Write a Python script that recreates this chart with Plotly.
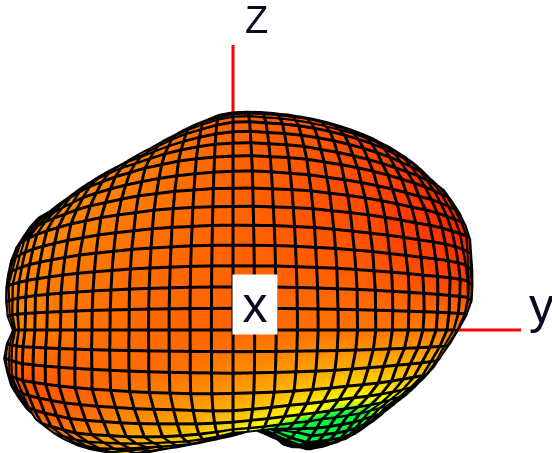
import numpy as np
import plotly.graph_objects as go

# grid angles of the pattern (degrees), left to right and top to bottom
AZ_DEG = list(range(-90, 95, 5))
EL_DEG = list(range(90, -95, -5))

# radius of the lobe at each grid node, one row per elevation
RADIUS = [
    [206,206,205,204,203,202,200,199,198,197,197,198,200,202,205,208,211,215,217,218,219,220,221,223,225,227,229,231,233,235,237,239,240,241,242,243,243],
    [206,206,205,204,203,202,200,199,198,198,198,199,200,203,206,209,212,216,218,219,220,221,222,224,226,228,230,232,234,236,238,240,241,242,243,243,243],
    [206,206,205,204,204,203,201,200,199,199,199,200,202,204,207,211,214,218,220,221,222,223,225,226,228,230,232,234,236,238,239,241,242,243,244,244,244],
    [207,206,206,205,204,204,203,202,202,201,202,203,204,207,210,213,217,220,224,225,226,227,228,230,231,232,234,235,237,239,240,241,242,243,244,245,245],
    [208,208,207,207,206,206,206,205,205,205,206,207,209,212,215,219,223,226,229,230,231,232,233,235,236,237,238,239,241,242,243,244,244,245,245,246,246],
    [210,210,209,209,209,209,209,209,209,209,210,212,214,217,220,224,228,232,235,236,236,237,238,239,240,241,243,244,245,246,247,247,246,246,246,247,247],
    [212,212,211,211,211,211,212,212,213,213,214,216,218,222,226,230,233,237,240,241,241,242,243,244,245,246,247,248,249,249,250,250,249,248,248,248,248],
    [215,214,214,214,215,216,217,218,219,220,222,224,225,228,231,234,237,240,242,243,243,244,245,246,247,248,249,250,251,251,252,252,251,251,250,250,250],
    [218,218,218,218,219,220,221,223,225,227,229,231,232,234,237,239,241,243,244,245,245,246,247,247,248,249,250,251,252,253,254,254,254,254,254,253,252],
    [224,223,222,221,223,224,226,229,231,234,235,237,238,240,241,243,244,245,246,247,247,248,249,249,250,251,252,253,254,255,256,256,256,256,255,254,253],
    [227,226,226,225,227,229,231,233,235,238,239,240,241,242,243,244,245,246,247,248,248,248,249,249,250,251,252,253,254,255,257,257,257,257,256,255,253],
    [229,229,229,230,232,235,237,239,240,242,243,243,244,245,245,246,246,247,247,248,248,249,250,250,251,252,253,254,255,257,258,258,258,258,257,255,252],
    [231,232,233,235,237,240,242,243,244,245,245,246,246,246,247,247,247,247,247,248,248,249,250,250,251,252,253,254,255,257,258,258,258,258,256,254,251],
    [232,232,233,235,237,240,242,243,244,245,245,246,246,246,247,247,247,248,248,248,249,249,250,250,250,251,252,253,254,256,257,257,256,254,252,250,249],
    [231,232,233,235,237,240,242,243,244,245,246,246,246,247,247,247,248,248,248,248,249,249,249,250,250,251,251,252,253,255,256,256,255,250,248,247,246],
    [229,231,233,236,238,240,242,243,244,245,246,246,246,247,247,247,248,248,248,248,249,249,249,250,250,250,251,252,252,254,255,255,254,248,246,244,243],
    [228,229,231,233,236,239,241,243,244,245,245,246,246,247,247,247,248,248,248,248,249,249,249,249,250,250,250,251,251,252,252,252,252,245,243,241,239],
    [224,226,229,231,235,238,240,242,243,244,245,246,246,246,247,247,248,248,248,248,249,249,249,249,249,249,249,249,250,250,250,249,247,240,237,234,231],
    [218,220,223,226,231,236,240,242,243,244,245,246,246,246,247,247,247,248,248,249,249,249,249,249,249,249,248,248,248,248,247,243,238,230,228,225,222],
    [226,227,229,231,235,239,243,244,245,246,246,247,247,247,247,247,247,248,249,248,248,247,247,247,246,245,244,243,242,241,239,233,228,222,220,217,215],
    [230,231,232,233,237,241,245,246,247,248,248,248,248,248,248,248,248,248,249,247,246,245,244,243,240,238,236,234,233,232,230,226,221,215,212,210,208],
    [229,230,232,235,239,243,247,248,249,250,250,250,249,249,249,248,248,247,245,243,242,240,237,235,232,231,230,228,226,224,222,217,212,207,205,204,202],
    [228,229,230,231,235,239,243,244,245,246,245,244,242,241,239,237,237,237,236,232,228,224,222,220,218,217,217,216,215,213,211,207,203,199,198,197,196],
    [224,225,225,226,231,236,240,241,241,242,240,237,235,232,229,226,224,221,218,214,211,208,206,205,204,204,204,204,203,201,200,197,194,191,191,190,190],
    [220,221,221,222,227,232,236,237,237,238,235,231,228,224,220,215,210,204,198,196,194,192,191,191,190,191,191,192,191,191,190,188,186,184,184,184,184],
    [215,215,216,216,220,223,226,226,226,225,220,216,211,206,201,197,191,185,178,177,175,174,177,180,183,184,185,186,185,185,184,182,181,179,179,178,178],
    [211,211,211,211,213,215,216,215,214,212,207,201,194,189,184,179,172,166,160,158,156,155,160,166,176,178,180,181,180,179,178,176,175,174,174,173,173],
    [206,206,206,206,206,206,206,204,201,199,191,184,176,171,165,160,155,151,147,144,140,137,148,160,170,172,174,176,175,173,172,171,170,170,170,170,170],
    [200,200,199,199,198,197,196,193,190,187,180,172,165,160,154,149,144,140,136,134,131,129,139,150,160,162,165,169,168,168,168,168,167,167,167,167,167],
    [195,194,193,192,190,188,186,182,179,175,168,160,153,147,142,138,134,131,128,125,123,121,129,139,150,153,156,160,161,162,163,163,164,164,164,164,164],
    [189,188,186,185,183,181,178,173,167,162,155,148,141,136,132,128,125,123,121,119,116,114,122,131,141,145,150,154,156,158,159,160,160,161,161,162,162],
    [184,183,182,181,178,175,172,166,160,155,148,142,136,132,128,124,121,118,116,114,112,110,117,124,131,137,144,150,152,154,156,157,158,159,159,160,160],
    [180,179,177,176,172,168,165,159,153,147,141,135,130,126,123,119,116,114,112,110,108,107,112,116,121,130,138,146,148,150,152,154,155,157,157,158,158],
    [176,175,174,172,168,163,159,153,146,140,135,130,125,121,118,114,112,110,109,107,105,104,106,108,111,122,132,142,144,147,149,151,153,155,155,156,157],
    [174,173,172,170,165,160,155,149,142,137,132,127,123,119,115,112,110,108,106,104,103,102,103,105,108,117,128,138,142,145,148,150,152,153,154,155,156],
    [173,172,171,168,164,159,154,147,141,136,130,125,122,118,114,111,108,106,104,103,102,101,101,103,106,116,127,136,141,144,147,149,151,152,153,154,155],
    [172,171,171,166,163,158,153,146,140,135,129,125,121,118,113,110,106,104,103,102,101,101,100,101,112,125,131,135,141,144,147,149,150,152,153,154,155],
]

# colour level at each grid node: 0 red, 66 yellow, 80 and up green
LEVEL = [
    [40,40,40,40,40,40,40,39,38,37,37,36,35,34,32,31,30,28,27,26,26,25,25,24,24,23,22,20,19,18,16,15,14,13,12,11,10],
    [40,40,40,40,40,40,40,39,38,37,36,36,35,34,32,31,30,28,27,26,26,25,25,24,24,23,21,20,19,18,16,15,14,13,12,11,10],
    [40,40,40,40,40,40,39,38,38,37,36,35,35,34,32,31,29,28,27,26,25,25,24,24,23,22,21,20,19,17,16,15,14,13,11,10,9],
    [40,40,40,40,39,39,39,38,37,36,36,35,35,33,32,30,29,27,26,26,25,24,24,23,23,22,21,19,18,17,15,14,13,12,11,10,9],
    [40,40,40,39,39,39,39,38,37,36,35,35,34,33,31,30,29,27,26,25,25,24,24,23,23,21,20,19,18,16,15,14,13,12,10,9,8],
    [40,40,39,39,39,38,38,37,37,36,35,35,34,33,31,30,28,27,26,25,25,24,23,23,22,21,20,18,17,16,14,13,12,11,10,9,8],
    [40,40,39,39,39,38,38,37,36,36,35,34,34,33,31,30,28,27,26,25,24,24,23,22,22,21,19,18,17,15,14,13,12,11,10,9,8],
    [40,39,39,39,38,38,38,37,36,36,35,34,34,32,31,30,28,27,26,25,24,23,23,22,22,20,19,18,16,15,14,13,12,11,10,8,8],
    [39,39,39,38,38,38,37,37,36,35,35,34,33,32,31,29,28,27,26,25,24,23,23,22,21,20,19,17,16,15,13,12,11,10,9,8,7],
    [39,39,38,38,38,37,37,36,36,35,34,34,33,32,31,29,28,27,26,25,24,23,22,22,21,20,18,17,16,14,13,12,11,10,9,8,7],
    [39,38,38,38,37,37,37,36,35,35,34,33,33,32,30,29,28,27,26,25,24,23,22,21,21,19,18,16,15,14,12,11,10,9,8,7,7],
    [38,38,38,37,37,37,36,36,35,34,34,33,32,31,30,29,28,27,26,25,24,23,22,21,20,19,17,16,15,13,12,11,10,9,8,7,6],
    [38,38,37,37,37,36,36,35,35,34,33,33,32,31,30,29,28,27,26,25,24,23,22,21,20,19,17,16,15,14,12,11,10,9,8,7,6],
    [38,38,37,37,36,36,36,35,34,33,33,32,31,30,29,28,27,27,26,25,24,23,22,22,21,20,18,17,16,15,14,13,12,11,10,9,9],
    [38,38,37,36,36,35,35,34,33,33,32,31,30,29,29,28,27,26,26,25,24,24,23,23,22,21,20,19,18,17,15,14,14,13,13,12,13],
    [38,38,37,36,35,35,34,33,33,32,31,30,30,29,28,27,27,26,26,25,25,24,24,24,24,23,22,21,20,18,17,17,16,16,16,16,18],
    [38,38,37,36,35,34,34,33,32,31,31,30,29,28,28,27,27,26,26,26,26,26,26,26,26,25,25,24,23,22,21,21,22,22,23,24,26],
    [38,38,37,36,35,34,34,33,32,31,30,30,29,28,27,27,26,26,26,27,27,27,28,28,28,28,28,28,28,28,28,28,29,29,30,31,31],
    [39,38,37,36,35,34,34,33,32,31,30,29,28,28,27,27,26,26,26,27,28,28,29,29,30,30,31,31,32,32,33,33,34,34,34,35,35],
    [37,36,34,33,32,31,30,29,29,28,28,28,28,28,28,28,28,29,31,32,33,35,36,37,38,38,39,39,39,39,40,40,40,40,41,41,41],
    [34,32,30,29,28,27,26,26,26,26,27,27,27,27,28,29,30,32,35,37,39,41,43,44,46,46,46,46,46,46,45,45,45,44,44,44,43],
    [30,28,26,25,24,23,22,22,23,24,25,26,28,30,32,34,36,38,40,43,46,49,51,53,55,55,54,53,52,51,50,49,48,47,47,46,45],
    [30,28,26,24,23,23,22,22,23,24,26,28,31,33,35,38,41,44,47,50,53,56,59,62,64,64,63,62,61,60,58,56,54,52,51,50,48],
    [32,29,27,25,24,24,24,24,25,27,29,32,36,38,40,43,46,49,53,57,61,64,66,68,72,73,72,71,69,67,65,62,60,58,56,55,54],
    [35,32,30,28,28,28,28,29,30,32,35,40,44,46,48,51,54,57,60,65,68,72,78,82,85,84,82,78,74,69,62,62,61,61,60,60,60],
    [35,33,31,29,29,30,31,32,34,36,39,43,47,49,51,54,56,58,61,66,72,78,84,88,90,90,90,88,84,78,72,70,68,66,66,65,65],
    [36,34,32,31,32,33,35,36,38,40,43,46,49,51,53,56,58,60,62,68,76,84,90,92,94,94,94,92,90,88,84,80,76,72,70,68,68],
    [36,35,34,33,34,36,38,39,41,43,46,48,51,53,55,57,59,61,62,70,80,90,94,95,95,95,95,95,94,92,90,86,82,78,74,70,70],
    [37,36,35,35,36,38,41,43,44,46,48,50,53,55,57,59,60,61,62,70,82,92,95,95,95,95,95,95,95,94,92,88,84,80,76,72,70],
    [37,37,36,37,38,41,44,45,47,49,50,52,55,56,58,59,61,62,62,70,84,93,95,95,95,95,95,95,95,94,92,88,84,80,76,72,70],
    [38,38,37,38,40,43,46,47,49,51,52,54,57,58,59,60,61,62,62,70,85,94,95,95,95,95,95,95,95,94,92,88,84,80,76,72,70],
    [38,38,38,39,41,44,47,48,50,52,53,55,58,59,60,61,62,63,63,70,85,94,95,95,95,95,95,95,95,94,92,88,84,80,76,72,70],
    [39,39,38,40,42,45,47,49,51,52,54,56,58,59,60,61,62,63,63,70,85,94,95,95,95,95,95,95,95,94,91,88,84,80,76,72,70],
    [39,39,39,40,42,45,48,49,51,53,55,57,59,60,61,62,63,63,64,70,85,94,95,95,95,95,95,95,94,93,91,87,83,79,75,71,70],
    [39,39,39,40,43,45,48,50,52,54,56,58,59,60,61,62,63,64,64,70,85,94,95,95,95,95,95,95,94,93,90,87,83,79,75,71,70],
    [40,40,39,41,43,46,48,50,52,54,56,58,60,61,62,63,63,64,64,70,85,94,95,95,95,95,95,95,94,92,90,87,83,79,75,71,70],
    [40,40,40,41,43,46,48,50,52,54,56,58,60,61,62,63,64,64,64,70,85,94,95,95,95,95,95,95,94,92,90,86,82,78,75,71,70],
]

# length of the two red axes that stick out of the lobe
AXIS_Z_LEN = 285
AXIS_Y_LEN = 288

WIDTH, HEIGHT = 552, 453
ORIGIN_PX = (233, 330)  # where the axes cross, in page pixels
ZOOM = 2  # orthographic camera ignores the eye distance, the box size sets the scale

az = np.radians(AZ_DEG)
el = np.radians(EL_DEG)
rad = np.array(RADIUS, dtype=float)
level = np.array(LEVEL, dtype=float)

# square grid wrapped on the front half of the sphere, no pole at the top
sa, se = np.meshgrid(np.sin(az), np.sin(el))
y = rad * sa * np.sqrt(1 - se**2 / 2)
z = rad * se * np.sqrt(1 - sa**2 / 2)
x = np.sqrt(np.maximum(rad**2 - y**2 - z**2, 0))


def grid_lines(px, py, pz):
    """Colle les lignes de la grille en une seule trace, separees par des NaN."""
    xs, ys, zs = [], [], []
    for ax, ay, az_ in [(px, py, pz), (px.T, py.T, pz.T)]:
        for i in range(ax.shape[0]):
            xs += list(ax[i]) + [np.nan]
            ys += list(ay[i]) + [np.nan]
            zs += list(az_[i]) + [np.nan]
    return xs, ys, zs


fig = go.Figure()

fig.add_trace(go.Surface(
    x=x, y=y, z=z,
    surfacecolor=level,
    cmin=0, cmax=100,
    colorscale=[[0, "rgb(255,0,0)"], [0.66, "rgb(255,255,0)"], [0.8, "rgb(0,255,64)"], [1, "rgb(0,255,64)"]],
    showscale=False,
    lighting=dict(ambient=1, diffuse=0, specular=0, fresnel=0, roughness=1),
    hoverinfo="skip",
))

# grid a little in front of the surface so it does not fight with it
lx, ly, lz = grid_lines(x + 3, y, z)
fig.add_trace(go.Scatter3d(x=lx, y=ly, z=lz, mode="lines",
                           line=dict(color="black", width=6), hoverinfo="skip", showlegend=False))

fig.add_trace(go.Scatter3d(x=[0, 0], y=[0, 0], z=[0, AXIS_Z_LEN], mode="lines",
                           line=dict(color="red", width=6), hoverinfo="skip", showlegend=False))
fig.add_trace(go.Scatter3d(x=[0, 0], y=[0, AXIS_Y_LEN], z=[0, 0], mode="lines",
                           line=dict(color="red", width=6), hoverinfo="skip", showlegend=False))

hidden = dict(visible=False, showgrid=False, zeroline=False, showticklabels=False, title="")
fig.update_layout(
    width=WIDTH, height=HEIGHT,
    margin=dict(l=0, r=0, t=0, b=0),
    paper_bgcolor="white",
    showlegend=False,
    scene=dict(
        domain=dict(x=[0, 1], y=[0, 1]),
        xaxis=dict(hidden, range=[-300, 300]),
        yaxis=dict(hidden, range=[-ORIGIN_PX[0], WIDTH - ORIGIN_PX[0]]),
        zaxis=dict(hidden, range=[ORIGIN_PX[1] - HEIGHT, ORIGIN_PX[1]]),
        aspectmode="manual",
        aspectratio=dict(x=ZOOM * 600 / HEIGHT, y=ZOOM * WIDTH / HEIGHT, z=ZOOM),
        camera=dict(projection=dict(type="orthographic"),
                    eye=dict(x=4, y=0, z=0), up=dict(x=0, y=0, z=1),
                    center=dict(x=0, y=0, z=0)),
        bgcolor="white",
    ),
    annotations=[
        dict(text="x", x=255 / WIDTH, y=1 - 304 / HEIGHT, xref="paper", yref="paper", showarrow=False,
             xanchor="center", yanchor="middle",
             width=42, height=57, bgcolor="white", font=dict(family="Liberation Sans", size=50, color="#0a0a20")),
        dict(text="Z", x=256 / WIDTH, y=1 - 20 / HEIGHT, xref="paper", yref="paper", showarrow=False,
             xanchor="center", yanchor="middle",
             font=dict(family="Liberation Sans", size=38, color="#0a0a20")),
        dict(text="y", x=541 / WIDTH, y=1 - 306 / HEIGHT, xref="paper", yref="paper", showarrow=False,
             xanchor="center", yanchor="middle",
             font=dict(family="Liberation Sans", size=50, color="#0a0a20")),
    ],
)

# page margin of the browser would shift the whole figure by 8 px
fig.write_html("out.html", config=dict(displayModeBar=False),
               post_script="document.body.style.margin='0';document.body.style.overflow='hidden';")
